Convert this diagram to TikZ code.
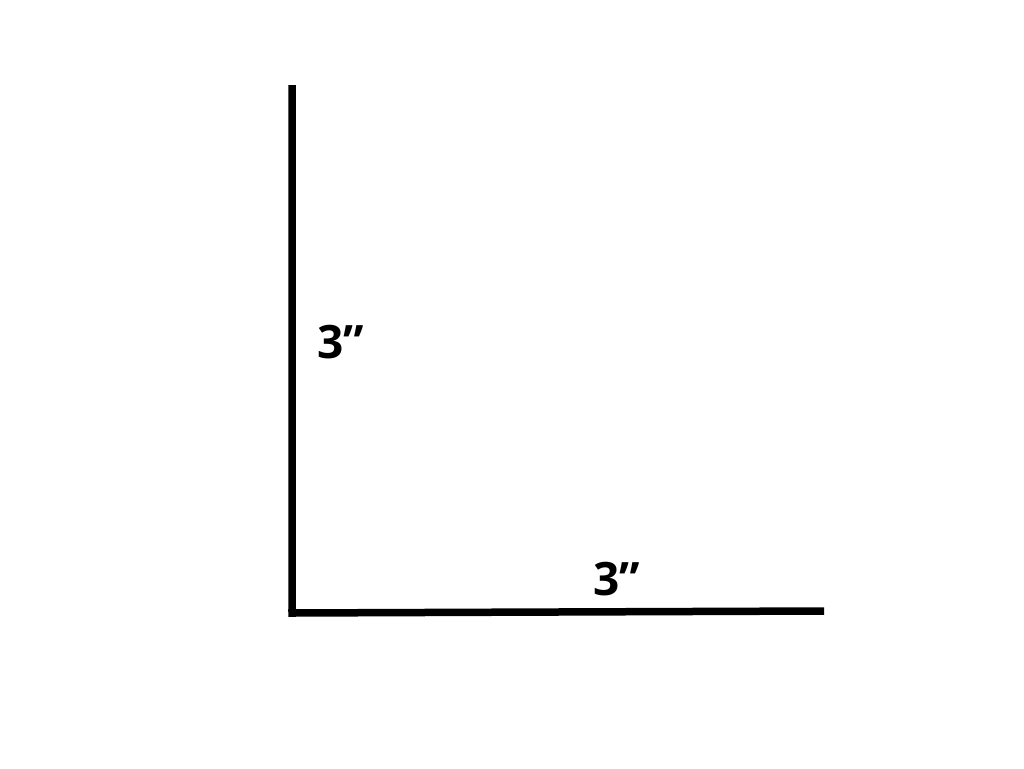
\documentclass[tikz,border=0pt]{standalone}
\usepackage{fontspec}
\setmainfont{Open Sans}
\begin{document}
\begin{tikzpicture}[x=1pt,y=-1pt,
  side/.style={line width=7.5pt,black,line cap=butt,line join=miter},
  dim/.style={font=\fontsize{46}{50}\selectfont\bfseries,inner sep=0pt,anchor=center}]
\useasboundingbox (0,0) rectangle (1024,768);
\coordinate (top) at (292,85);
\coordinate (corner) at (292,613);
\coordinate (right) at (824,611);
\draw[side] (top) -- (292,616.75) (288.25,613) -- (right);
\node[dim] (lv) at (341,342) {3”};
\node[dim] (lh) at (617,579) {3”};
\end{tikzpicture}
\end{document}
